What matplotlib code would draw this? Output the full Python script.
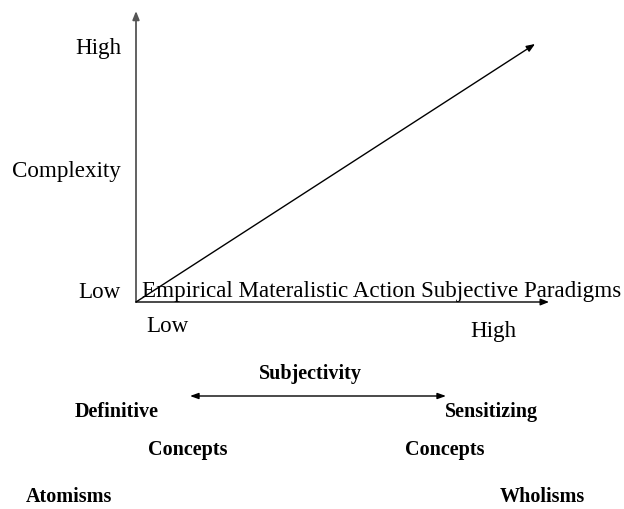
import matplotlib
matplotlib.use("Agg")
import matplotlib.pyplot as plt

plt.rcParams['font.family'] = ['Liberation Serif', 'DejaVu Serif']

# axis labels of the diagram
y_labels = ["High", "Complexity", "Low"]
x_labels = ["Low", "High"]
paradigms = "Empirical Materalistic Action Subjective Paradigms"
scale_title = "Subjectivity"
left_terms = ["Definitive", "Concepts", "Atomisms"]
right_terms = ["Sensitizing", "Concepts", "Wholisms"]

fig = plt.figure(figsize=(6.24, 5.09), dpi=100)
ax = fig.add_axes([0, 0, 1, 1])
ax.set_xlim(0, 624)
ax.set_ylim(509, 0)
ax.axis("off")

origin = (136, 302)
arrow = dict(arrowstyle="-|>,head_length=0.5,head_width=0.2", color="black", lw=1.0,
             shrinkA=0, shrinkB=0)

# vertical axis (grey), horizontal axis, diagonal
ax.annotate("", xy=(136, 11), xytext=origin,
            arrowprops=dict(arrow, color="#555555", lw=1.3))
ax.annotate("", xy=(549, 302), xytext=origin, arrowprops=arrow)
ax.annotate("", xy=(535, 44), xytext=origin, arrowprops=arrow)

fs = 16.6
for lab, y in zip(y_labels, [48, 172, 293]):
    ax.text(121, y, lab, ha="right", va="center", fontsize=fs)
ax.text(146, 326, x_labels[0], ha="left", va="center", fontsize=fs)
ax.text(470, 331, x_labels[1], ha="left", va="center", fontsize=fs)
ax.text(142, 291, paradigms, ha="left", va="center", fontsize=fs)

# lower part: subjectivity scale
bfs = 14.5
ax.text(310, 374, scale_title, ha="center", va="center", fontsize=bfs, fontweight="bold")
ax.annotate("", xy=(190, 396), xytext=(446, 396),
            arrowprops=dict(arrowstyle="<|-|>,head_length=0.5,head_width=0.18",
                            color="black", lw=1.0, shrinkA=0, shrinkB=0))
for lab, (x, y) in zip(left_terms, [(75, 412), (148, 450), (26, 497)]):
    ax.text(x, y, lab, ha="left", va="center", fontsize=bfs, fontweight="bold")
for lab, (x, y) in zip(right_terms, [(445, 412), (405, 450), (500, 497)]):
    ax.text(x, y, lab, ha="left", va="center", fontsize=bfs, fontweight="bold")

fig.savefig("out.png", dpi=100)
